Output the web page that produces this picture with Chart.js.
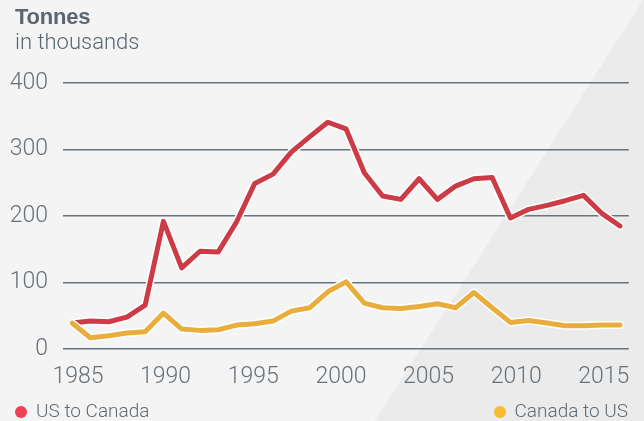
<!DOCTYPE html>
<html>
<head>
<meta charset="utf-8">
<script src="https://cdn.jsdelivr.net/npm/chart.js@4"></script>
<style>
  html, body { margin: 0; padding: 0; background: #f4f4f4; }
  #wrap { position: relative; width: 644px; height: 421px; overflow: hidden; font-family: Roboto, "Liberation Sans", sans-serif; }
  canvas { position: absolute; left: 0; top: 0; }
  .title { position: absolute; left: 15px; top: 4px; color: #5b666e; line-height: 24px; }
  .title b { font: 700 22px "Liberation Sans", Arial, sans-serif; display: block; letter-spacing: -0.2px; }
  .title span { font-size: 22px; font-weight: 300; display: block; }
  .leg { position: absolute; top: 400px; font-size: 19px; font-weight: 300; color: #5f6a72; line-height: 21px; }
  .leg i { display: inline-block; width: 12px; height: 12px; border-radius: 50%; margin-right: 9px; vertical-align: -1px; }
</style>
</head>
<body>
<div id="wrap">
  <canvas id="chart" width="644" height="421"></canvas>
  <div class="title"><b>Tonnes</b><span>in thousands</span></div>
  <div class="leg" style="left:15px"><i style="background:#ee4154"></i>US to Canada</div>
  <div class="leg" style="right:16px"><i style="background:#f8ba30"></i>Canada to US</div>
</div>
<script>
const years = [1985, 1986, 1987, 1988, 1989, 1990, 1991, 1992, 1993, 1994,
  1995, 1996, 1997, 1998, 1999, 2000, 2001, 2002, 2003, 2004,
  2005, 2006, 2007, 2008, 2009, 2010, 2011, 2012, 2013, 2014, 2015];
const usToCanada = [39, 42, 41, 48, 66, 192, 122, 147, 146, 191,
  249, 263, 296, 319, 341, 331, 265, 230, 225, 256,
  225, 245, 256, 258, 197, 210, 216, 223, 231, 204, 185];
const canadaToUs = [39, 17, 20, 24, 26, 54, 30, 28, 29, 36,
  38, 42, 57, 62, 86, 101, 69, 62, 61, 64,
  68, 62, 85, 62, 40, 43, 39, 35, 35, 36, 36];
const yearTicks = [1985, 1990, 1995, 2000, 2005, 2010, 2015];
const valueTicks = [0, 100, 200, 300, 400];

const pts = arr => arr.map((v, i) => ({ x: years[i], y: v }));
const tickFont = { family: 'Roboto, "Liberation Sans", sans-serif', size: 23, weight: 300 };

// shaded diagonal band behind the chart
const backdrop = {
  id: 'backdrop',
  beforeDraw(chart) {
    const c = chart.ctx;
    c.save();
    c.fillStyle = '#f4f4f4';
    c.fillRect(0, 0, chart.width, chart.height);
    c.fillStyle = '#ebebeb';
    c.beginPath();
    c.moveTo(375, 421);
    c.lineTo(643, 0);
    c.lineTo(644, 0);
    c.lineTo(644, 421);
    c.closePath();
    c.fill();
    c.restore();
  }
};

const line = (data, color, width, order) => ({
  data: pts(data),
  borderColor: color,
  borderWidth: width,
  pointRadius: 0,
  tension: 0,
  borderJoinStyle: 'round',
  borderCapStyle: 'round',
  order: order
});

new Chart(document.getElementById('chart'), {
  type: 'line',
  data: {
    datasets: [
      line(usToCanada, '#ffffff', 8, 4),
      line(usToCanada, '#cd3b46', 5, 3),
      line(canadaToUs, '#ffffff', 8, 2),
      line(canadaToUs, '#e9ad3d', 5, 1)
    ]
  },
  options: {
    responsive: false,
    animation: false,
    events: [],
    layout: { padding: { top: 83, right: 14, left: 0, bottom: 0 } },
    plugins: { legend: { display: false }, tooltip: { enabled: false } },
    scales: {
      x: {
        type: 'linear', display: false, min: 1984.5, max: 2015.48
      },
      xl: {
        type: 'linear', position: 'bottom', min: 1984.146, max: 2016.423,
        afterBuildTicks: s => { s.ticks = yearTicks.map(v => ({ value: v })); },
        afterFit: s => { s.height = 72; },
        grid: { display: false, drawTicks: false },
        border: { display: false },
        ticks: { color: '#66717a', font: tickFont, padding: 14, maxRotation: 0, callback: v => String(v) }
      },
      y: {
        min: 0, max: 400,
        afterBuildTicks: s => { s.ticks = valueTicks.map(v => ({ value: v })); },
        afterFit: s => { s.width = 63; },
        grid: { color: '#68737b', lineWidth: 1.5, drawTicks: false },
        border: { display: false },
        ticks: { color: '#66717a', font: tickFont, padding: 15 }
      }
    }
  },
  plugins: [backdrop]
});
</script>
</body>
</html>
